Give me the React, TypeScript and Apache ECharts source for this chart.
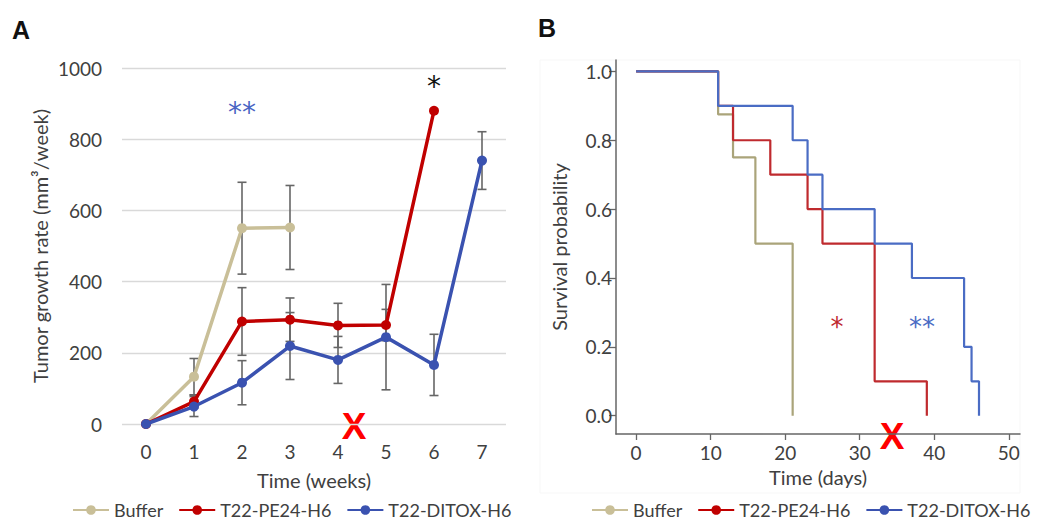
import React, { useEffect, useRef } from "react";
import * as echarts from "echarts";

// ---- Panel A: tumor growth rate ----
const weeks = ["0", "1", "2", "3", "4", "5", "6", "7"];
const bufferGrowth = [0, 133, 550, 552, null, null, null, null];
const pe24Growth = [0, 63, 288, 293, 277, 278, 880, null];
const ditoxGrowth = [0, 49, 116, 219, 180, 244, 166, 740];
const bufferErr = [0, 51, 129, 118, null, null, null, null];
const pe24Err = [0, 18, 95, 61, 62, 44, null, null];
const ditoxErr = [0, 28, 62, 94, 66, 148, 86, 81];

// ---- Panel B: Kaplan-Meier survival ----
const bufferDays = [0, 11, 13, 16, 21];
const bufferSurv = [1, 0.875, 0.75, 0.5, 0];
const pe24Days = [0, 11, 13, 18, 23, 25, 32, 39];
const pe24Surv = [1, 0.9, 0.8, 0.7, 0.6, 0.5, 0.1, 0];
const ditoxDays = [0, 11, 21, 23, 25, 32, 37, 44, 45, 46];
const ditoxSurv = [1, 0.9, 0.8, 0.7, 0.6, 0.5, 0.4, 0.2, 0.1, 0];
const survTicksX = [0, 10, 20, 30, 40, 50];
const survTicksY = [0, 0.2, 0.4, 0.6, 0.8, 1.0];

const seriesNames = ["Buffer", "T22-PE24-H6", "T22-DITOX-H6"];
const colA = ["#c9bf98", "#c00000", "#3a52b0"];
const colB = ["#aaa47a", "#bf2a2e", "#4a6cc4"];

const FONT = "Lato";
const TXT = "#404040";

function errData(means: (number | null)[], errs: (number | null)[]) {
  const out: number[][] = [];
  means.forEach((m, i) => {
    const e = errs[i];
    if (m != null && e != null && e > 0) out.push([i, m - e, m + e]);
  });
  return out;
}

function pairs(xs: number[], ys: number[]) {
  return xs.map((x, i) => [x, ys[i]]);
}

const errRender = (params: any, api: any) => {
  const x = api.value(0);
  const lo = api.coord([x, api.value(1)]);
  const hi = api.coord([x, api.value(2)]);
  const w = 4.5;
  const st = { stroke: "#666666", lineWidth: 1.6 };
  return {
    type: "group",
    children: [
      { type: "line", shape: { x1: hi[0], y1: hi[1], x2: lo[0], y2: lo[1] }, style: st },
      { type: "line", shape: { x1: hi[0] - w, y1: hi[1], x2: hi[0] + w, y2: hi[1] }, style: st },
      { type: "line", shape: { x1: lo[0] - w, y1: lo[1], x2: lo[0] + w, y2: lo[1] }, style: st },
    ],
  };
};

export default function App() {
  const ref = useRef<HTMLDivElement>(null);
  useEffect(() => {
    if (!ref.current) return;
    const chart = echarts.init(ref.current, undefined, { renderer: "svg" });
    const growth = [bufferGrowth, pe24Growth, ditoxGrowth];
    const errs = [bufferErr, pe24Err, ditoxErr];
    const surv = [pairs(bufferDays, bufferSurv), pairs(pe24Days, pe24Surv), pairs(ditoxDays, ditoxSurv)];

    const legendCommon = {
      data: seriesNames,
      selectedMode: false,
      orient: "horizontal",
      padding: 0,
      itemWidth: 36,
      itemHeight: 12,
      itemGap: 15,
      width: 446,
      textStyle: { fontFamily: FONT, fontSize: 18, color: TXT },
      top: 501,
    };

    const option: any = {
      animation: false,
      backgroundColor: "#ffffff",
      textStyle: { fontFamily: FONT },
      legend: [
        { ...legendCommon, left: 72 },
        { ...legendCommon, left: 591 },
      ],
      grid: [
        { left: 122, right: 532, top: 68, bottom: 97 },
        { left: 616, right: 18, top: 60, bottom: 87 },
      ],
      xAxis: [
        {
          gridIndex: 0,
          type: "category",
          data: weeks,
          boundaryGap: true,
          axisLine: { show: false },
          axisTick: { show: false },
          axisLabel: { fontFamily: FONT, fontSize: 19, color: TXT, margin: 18 },
          name: "Time (weeks)",
          nameLocation: "middle",
          nameGap: 46,
          nameTextStyle: { fontFamily: FONT, fontSize: 20, color: TXT },
        },
        {
          gridIndex: 1,
          type: "value",
          min: -2.7,
          max: 51.5,
          splitLine: { show: false },
          axisLine: { show: true, onZero: false, lineStyle: { color: "#666666", width: 1.5 } },
          axisTick: { show: true, length: 6, customValues: survTicksX, lineStyle: { color: "#666666", width: 1.3 } },
          axisLabel: { fontFamily: FONT, fontSize: 19, color: TXT, margin: 9, customValues: survTicksX },
          name: "Time (days)",
          nameLocation: "middle",
          nameGap: 33,
          nameTextStyle: { fontFamily: FONT, fontSize: 20, color: TXT },
        },
      ],
      yAxis: [
        {
          gridIndex: 0,
          type: "value",
          min: 0,
          max: 1000,
          interval: 200,
          axisLine: { show: false },
          axisTick: { show: false },
          splitLine: { lineStyle: { color: "#d9d9d9", width: 1.3 } },
          axisLabel: { fontFamily: FONT, fontSize: 19, color: TXT, margin: 20, formatter: (v: number) => String(v) },
          name: "Tumor growth rate (mm³/week)",
          nameLocation: "middle",
          nameGap: 72,
          nameTextStyle: { fontFamily: FONT, fontSize: 20, color: TXT },
        },
        {
          gridIndex: 1,
          type: "value",
          min: -0.053,
          max: 1.033,
          splitLine: { show: false },
          axisLine: { show: true, onZero: false, lineStyle: { color: "#666666", width: 1.5 } },
          axisTick: { show: true, length: 7, customValues: survTicksY, lineStyle: { color: "#666666", width: 1.3 } },
          axisLabel: {
            fontFamily: FONT,
            fontSize: 19,
            color: TXT,
            margin: 4,
            customValues: survTicksY,
            formatter: (v: number) => v.toFixed(1),
          },
          name: "Survival probability",
          nameLocation: "middle",
          nameGap: 47,
          nameTextStyle: { fontFamily: FONT, fontSize: 20, color: TXT },
        },
      ],
      series: [
        ...seriesNames.map((n, i) => ({
          name: n + " error",
          type: "custom",
          xAxisIndex: 0,
          yAxisIndex: 0,
          renderItem: errRender,
          data: errData(growth[i], errs[i]),
          z: 1,
          silent: true,
        })),
        ...seriesNames.map((n, i) => ({
          name: n,
          type: "line",
          xAxisIndex: 0,
          yAxisIndex: 0,
          data: growth[i],
          connectNulls: false,
          symbol: "circle",
          symbolSize: 10,
          lineStyle: { color: colA[i], width: 3.5 },
          itemStyle: { color: colA[i] },
          z: 2 + i,
        })),
        ...seriesNames.map((n, i) => ({
          name: n + " survival",
          type: "line",
          xAxisIndex: 1,
          yAxisIndex: 1,
          step: "end",
          data: surv[i],
          showSymbol: false,
          symbol: "none",
          lineStyle: { color: colB[i], width: 2.2 },
          itemStyle: { color: colB[i] },
          z: 2 + i,
        })),
      ],
      graphic: [
        { type: "rect", shape: { x: 540, y: 60, width: 480, height: 433 }, style: { fill: "none", stroke: "#f7f7f7", lineWidth: 1 }, z: -1 },
        { type: "text", x: 12, y: 17, style: { text: "A", fontFamily: "Liberation Sans", fontWeight: "bold", fontSize: 25, fill: "#111" } },
        { type: "text", x: 538, y: 15, style: { text: "B", fontFamily: "Liberation Sans", fontWeight: "bold", fontSize: 25, fill: "#111" } },
        { type: "text", x: 242, y: 112, style: { text: "**", fontFamily: "DejaVu Sans", fontSize: 28, fill: "#4a64c4", align: "center", verticalAlign: "middle", letterSpacing: 2 } },
        { type: "text", x: 434, y: 86, style: { text: "*", fontFamily: "DejaVu Sans", fontSize: 28, fill: "#111", align: "center", verticalAlign: "middle" } },
        { type: "text", x: 354, y: 426, style: { text: "X", fontFamily: "Liberation Sans", fontWeight: "bold", fontSize: 37, fill: "#ff0000", align: "center", verticalAlign: "middle" } },
        { type: "text", x: 837, y: 327, style: { text: "*", fontFamily: "DejaVu Sans", fontSize: 26, fill: "#c0282d", align: "center", verticalAlign: "middle" } },
        { type: "text", x: 922, y: 327, style: { text: "**", fontFamily: "DejaVu Sans", fontSize: 26, fill: "#4a6cc4", align: "center", verticalAlign: "middle", letterSpacing: 3 } },
        { type: "text", x: 892, y: 436, style: { text: "X", fontFamily: "Liberation Sans", fontWeight: "bold", fontSize: 37, fill: "#ff0000", align: "center", verticalAlign: "middle" } },
      ],
    };
    chart.setOption(option);
    return () => chart.dispose();
  }, []);
  return (
    <div
      ref={ref}
      style={{ position: "fixed", left: 0, top: 0, width: 1038, height: 521, background: "#fff" }}
    />
  );
}
